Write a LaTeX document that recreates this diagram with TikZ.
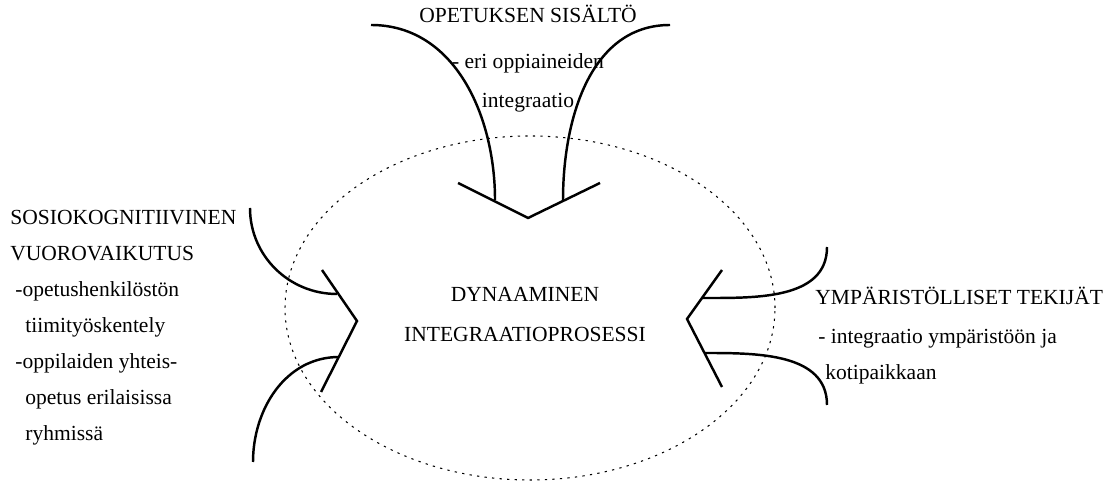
\documentclass[tikz,border=0pt]{standalone}
\usepackage{fontspec}
\setmainfont{Liberation Serif}

\begin{document}
\begin{tikzpicture}[
    flow/.style={line width=1.4pt},
    zone/.style={line width=0.6pt, dash pattern=on 1.3pt off 3pt},
    txt/.style={inner sep=0pt, font=\fontsize{12.25}{20.5}\selectfont}
  ]
  \useasboundingbox (0,0) rectangle (22.12,9.68);
  \draw[zone] (10.6,3.52) ellipse [x radius=4.9, y radius=3.44];

  \coordinate (topTip) at (10.56,5.32);
  \coordinate (topL) at (9.16,6.02);
  \coordinate (topR) at (12.0,6.02);
  \coordinate (topInL) at (9.9,5.68);
  \coordinate (topInR) at (11.26,5.68);
  \coordinate (topOutL) at (7.42,9.18);
  \coordinate (topOutR) at (13.4,9.18);

  \coordinate (leftTip) at (7.14,3.26);
  \coordinate (leftU) at (6.44,4.28);
  \coordinate (leftD) at (6.42,1.84);
  \coordinate (leftInU) at (6.74,3.8);
  \coordinate (leftInD) at (6.78,2.54);
  \coordinate (leftOutU) at (5.0,5.52);
  \coordinate (leftOutD) at (5.06,0.44);

  \coordinate (rightTip) at (13.74,3.3);
  \coordinate (rightU) at (14.44,4.28);
  \coordinate (rightD) at (14.44,1.94);
  \coordinate (rightInU) at (14.04,3.72);
  \coordinate (rightInD) at (14.08,2.62);
  \coordinate (rightOutU) at (16.54,4.74);
  \coordinate (rightOutD) at (16.54,1.58);

  \draw[flow] (topL) -- (topTip) -- (topR);
  \draw[flow] (topOutL) to[out=0,in=90] (topInL);
  \draw[flow] (topOutR) to[out=180,in=90] (topInR);

  \draw[flow] (leftU) -- (leftTip) -- (leftD);
  \draw[flow] (leftOutU) to[out=-90,in=180] (leftInU);
  \draw[flow] (leftOutD) to[out=90,in=180] (leftInD);

  \draw[flow] (rightU) -- (rightTip) -- (rightD);
  \draw[flow] (rightOutU) to[out=-90,in=0] (rightInU);
  \draw[flow] (rightOutD) to[out=90,in=0] (rightInD);

  \node[txt, align=center, anchor=base] (content) at (10.56,7.52)
    {OPETUKSEN SISÄLTÖ\\[5.7pt]
     - eri oppiaineiden\\[2pt]
     integraatio};
  \node[txt, align=center, anchor=base] (process) at (10.5,2.84)
    {DYNAAMINEN\\[2.3pt] INTEGRAATIOPROSESSI};
  \node[txt, align=left, anchor=base west] (social) at (0.2,0.86)
    {SOSIOKOGNITIIVINEN\\
     VUOROVAIKUTUS\\
     \hspace*{0.1cm}-opetushenkilöstön\\
     \hspace*{0.3cm}tiimityöskentely\\
     \hspace*{0.1cm}-oppilaiden yhteis-\\
     \hspace*{0.3cm}opetus erilaisissa\\
     \hspace*{0.3cm}ryhmissä};
  \node[txt, align=left, anchor=base west] (environment) at (16.3,2.09)
    {YMPÄRISTÖLLISET TEKIJÄT\\[1.5pt]
     \hspace*{0.06cm}- integraatio ympäristöön ja\\
     \hspace*{0.2cm}kotipaikkaan};
\end{tikzpicture}
\end{document}
